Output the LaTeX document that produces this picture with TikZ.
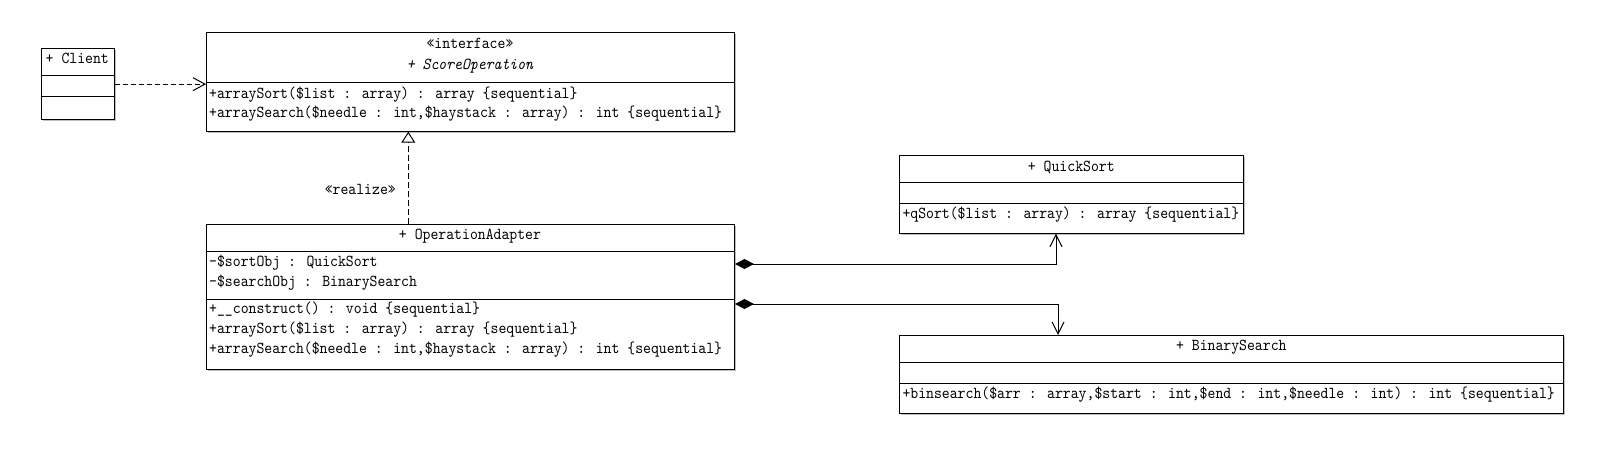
\documentclass[tikz,border=0pt]{standalone}
\usepackage{fontspec}
\usepackage{tikz}
\usetikzlibrary{arrows.meta,shadows}
\newfontfamily\umlfont{lmmono10-regular.otf}[ItalicFont=lmmono10-italic.otf,FakeStretch=0.9]

\begin{document}
\begin{tikzpicture}[x=1pt,y=-1pt,
    font=\umlfont\fontsize{16.7}{18}\selectfont,
    umlbox/.style={draw,fill=white,anchor=north west,inner sep=0,line width=1pt,
      drop shadow={shadow xshift=1.5pt,shadow yshift=-1.5pt,fill=black!25,opacity=1}},
    clsname/.style={inner sep=0,text height=11pt,text depth=3pt},
    clsline/.style={clsname,anchor=west},
    dep/.style={line width=1pt,dash pattern=on 5pt off 3pt,
      -{Straight Barb[length=12pt,width=13pt,line width=1pt]}},
    realize/.style={line width=1pt,dash pattern=on 6pt off 3pt,
      -{Triangle[open,length=11pt,width=14pt,line width=1pt]}},
    comp/.style={line width=1pt,
      {Diamond[length=19pt,width=10pt]}-{Straight Barb[length=12pt,width=12pt,line width=1pt]}}]

    % Page
    \fill[white] (0,0) rectangle (1603,461);
    \useasboundingbox (0,0) rectangle (1603,461);

    % Client
    \node[umlbox,minimum width=73.3pt,minimum height=70.7pt] (client) at (40.7,48.3) {};
    \draw (client.west |- 0,75) -- (client.east |- 0,75);
    \draw (client.west |- 0,96.3) -- (client.east |- 0,96.3);
    \node[clsname] (clientname) at (77.3,59.3) {+ Client};

    % ScoreOperation
    \node[umlbox,minimum width=528pt,minimum height=98.4pt] (so) at (206,32.3) {};
    \draw (so.west |- 0,82.3) -- (so.east |- 0,82.3);
    \node[clsname] (sostereo) at (470,44) {«interface»};
    \node[clsname] (soname) at (470,65.4) {\itshape + ScoreOperation};
    \node[clsline] (sosort) at (209,94) {+arraySort(\$list : array) : array \{sequential\}};
    \node[clsline] (sosearch) at (209,113.5) {+arraySearch(\$needle : int,\$haystack : array) : int \{sequential\}};

    % OperationAdapter
    \node[umlbox,minimum width=528pt,minimum height=144.7pt] (oa) at (206,224.3) {};
    \draw (oa.west |- 0,251) -- (oa.east |- 0,251);
    \draw (oa.west |- 0,299) -- (oa.east |- 0,299);
    \node[clsname] (oaname) at (470,235.5) {+ OperationAdapter};
    \node[clsline] (oasortobj) at (209,262.7) {-\$sortObj : QuickSort};
    \node[clsline] (oasearchobj) at (209,282) {-\$searchObj : BinarySearch};
    \node[clsline] (oaconstruct) at (209,309) {+\_\_construct() : void \{sequential\}};
    \node[clsline] (oasort) at (209,329) {+arraySort(\$list : array) : array \{sequential\}};
    \node[clsline] (oasearch) at (209,349.5) {+arraySearch(\$needle : int,\$haystack : array) : int \{sequential\}};

    % QuickSort
    \node[umlbox,minimum width=344pt,minimum height=77.7pt] (qs) at (899.3,155) {};
    \draw (qs.west |- 0,182.3) -- (qs.east |- 0,182.3);
    \draw (qs.west |- 0,203.3) -- (qs.east |- 0,203.3);
    \node[clsname] (qsname) at (1071.3,167) {+ QuickSort};
    \node[clsline] (qssort) at (902.3,214) {+qSort(\$list : array) : array \{sequential\}};

    % BinarySearch
    \node[umlbox,minimum width=664pt,minimum height=78pt] (bs) at (899.3,335) {};
    \draw (bs.west |- 0,362) -- (bs.east |- 0,362);
    \draw (bs.west |- 0,383.3) -- (bs.east |- 0,383.3);
    \node[clsname] (bsname) at (1231.3,346) {+ BinarySearch};
    \node[clsline] (bssearch) at (902.3,394) {+binsearch(\$arr : array,\$start : int,\$end : int,\$needle : int) : int \{sequential\}};

    % Connectors
    \draw[dep] (client.east) -- (client.east -| so.west);
    \draw[realize] (oa.north -| 408.3,0) -- (so.south -| 408.3,0)
      node[pos=0.38,left=12pt,inner sep=0] (realizelabel) {«realize»};
    \draw[comp] (oa.east |- 0,264) -| (qs.south -| 1056,0);
    \draw[comp] (oa.east |- 0,304) -| (bs.north -| 1058,0);
\end{tikzpicture}
\end{document}
